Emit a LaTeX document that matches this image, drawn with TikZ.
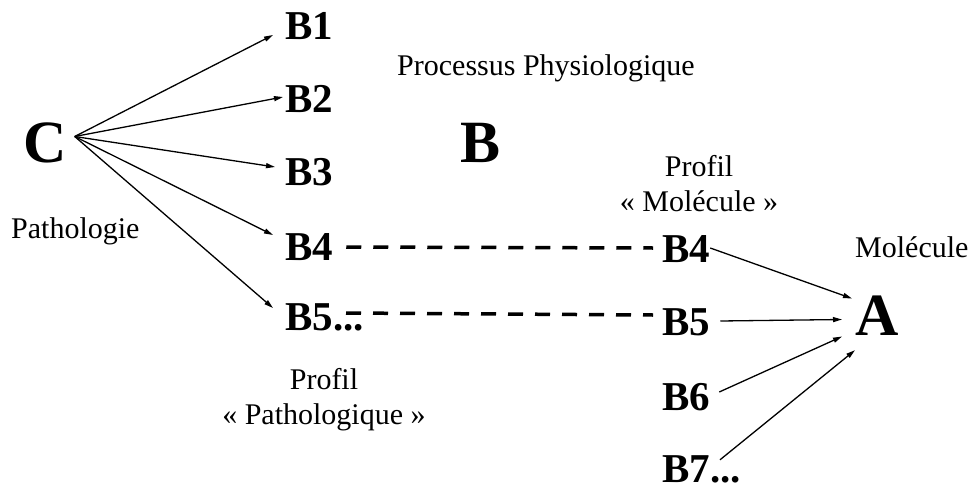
\documentclass[tikz,border=0pt]{standalone}
\usepackage{fontspec}
\setmainfont{Liberation Serif}
\usetikzlibrary{arrows.meta}
\begin{document}
\begin{tikzpicture}[x=1pt,y=-1pt,
  big/.style={font=\fontsize{60}{60}\selectfont\bfseries, inner sep=0pt, anchor=base west, text height=41pt, text depth=0pt},
  bl/.style={font=\fontsize{41}{41}\selectfont\bfseries, inner sep=0pt, anchor=base west, text height=28pt, text depth=0pt},
  lbl/.style={font=\fontsize{30}{35}\selectfont, inner sep=0pt},
  arr/.style={line width=1.3pt, -{Triangle[length=9pt,width=5pt]}},
  dsh/.style={line width=3.5pt, dash pattern=on 15pt off 12pt}]
\useasboundingbox (0,0) rectangle (979,487);

% big letters
\node[big] (C) at (23,162) {C};
\node[big] (B) at (460,162) {B};
\node[big] (A) at (855,335) {A};

% left B column
\node[bl] (B1) at (285,40) {B1};
\node[bl] (B2) at (285,112) {B2};
\node[bl] (B3) at (285,185) {B3};
\node[bl] (B4l) at (285,260) {B4};
\node[bl] (B5l) at (285,330) {B5...};

% right B column
\node[bl] (B4r) at (662,262) {B4};
\node[bl] (B5r) at (662,335) {B5};
\node[bl] (B6r) at (662,410) {B6};
\node[bl] (B7r) at (662,482) {B7...};

% labels
\node[lbl, anchor=base west] (patho) at (11,238) {Pathologie};
\node[lbl, anchor=base west] (proc) at (397,75) {Processus Physiologique};
\node[lbl, anchor=base west] (mol) at (855,257) {Molécule};
\node[lbl, anchor=north, align=center] (pmol) at (699,155) {Profil\\« Molécule »};
\node[lbl, anchor=north, align=center] (ppat) at (324,368) {Profil\\« Pathologique »};

% arrows from C
\coordinate (c0) at ([xshift=8pt,yshift=5pt]C.east);
\draw[arr] (c0) -- ([xshift=-12pt,yshift=-9pt]B1.west);
\draw[arr] (c0) -- ([xshift=-2pt,yshift=1pt]B2.west);
\draw[arr] (c0) -- ([xshift=-10pt,yshift=4pt]B3.west);
\draw[arr] (c0) -- ([xshift=-12pt,yshift=11pt]B4l.west);
\draw[arr] (c0) -- ([xshift=-12pt,yshift=8pt]B5l.west);

% dashed links
\draw[dsh] ([xshift=13pt,yshift=-1pt]B4l.east) -- ([xshift=-9pt]B4r.west);
\draw[dsh] ([xshift=61pt,yshift=3pt]B5l.west) -- ([xshift=-9pt,yshift=6pt]B5r.west);

% arrows to A
\draw[arr] (B4r.east) -- ([xshift=-3pt,yshift=16pt]A.west);
\draw[arr] ([xshift=10pt]B5r.east) -- ([xshift=-13pt,yshift=-5pt]A.west);
\draw[arr] ([xshift=9pt,yshift=4pt]B6r.east) -- ([xshift=-13pt,yshift=-22pt]A.west);
\draw[arr] ([xshift=-21pt,yshift=-6pt]B7r.north east) -- ([yshift=-15pt]A.south west);
\end{tikzpicture}
\end{document}
